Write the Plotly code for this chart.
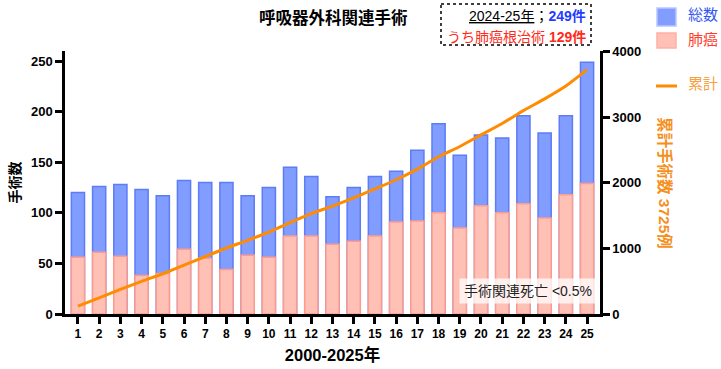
import plotly.graph_objects as go

years = list(range(1, 26))
total = [120, 126, 128, 123, 117, 132, 130, 130, 117, 125, 145, 136, 116,
         125, 136, 141, 162, 188, 157, 177, 174, 196, 179, 196, 249]
lung = [56, 61, 57, 38, 40, 64, 55, 44, 58, 56, 77, 77, 69,
        72, 77, 91, 92, 100, 85, 107, 100, 109, 95, 118, 129]
cumulative = [120, 246, 374, 497, 614, 746, 876, 1006, 1123, 1248, 1393, 1529, 1645,
              1770, 1906, 2047, 2209, 2397, 2554, 2731, 2905, 3101, 3280, 3476, 3725]
left_ticks = [0, 50, 100, 150, 200, 250]
right_ticks = [0, 1000, 2000, 3000, 4000]

FONT = "Arial, Liberation Sans, Noto Sans CJK JP, sans-serif"
BLUE_FILL = "#819dff"
BLUE_LINE = "#5d7cf6"
PINK_FILL = "#ffc0b6"
PINK_LINE = "#ff9b8c"
ORANGE = "#ff8c00"

W, H = 721, 369
pl, pr, pt, pb = 65, 600, 51, 314  # plot area in pixels

fig = go.Figure()
fig.add_trace(go.Bar(x=years, y=total, name="総数", width=0.62,
                     marker=dict(color=BLUE_FILL, line=dict(color=BLUE_LINE, width=1.5)),
                     showlegend=False))
fig.add_trace(go.Bar(x=years, y=lung, name="肺癌", width=0.62,
                     marker=dict(color=PINK_FILL, line=dict(color=PINK_LINE, width=1.5)),
                     showlegend=False))
fig.add_trace(go.Scatter(x=years, y=cumulative, name="累計", yaxis="y2", mode="lines",
                         line=dict(color=ORANGE, width=3, shape="spline", smoothing=0.6),
                         showlegend=False))

axis_common = dict(showline=True, linecolor="black", linewidth=2.5, ticks="outside",
                   ticklen=7, tickwidth=2.5, tickcolor="black", showgrid=False,
                   zeroline=False, automargin=False)

fig.update_layout(
    template="none",
    width=W, height=H,
    margin=dict(l=pl, r=W - pr, t=pt, b=H - pb, pad=0),
    paper_bgcolor="white", plot_bgcolor="white",
    barmode="overlay",
    font=dict(family=FONT, color="black"),
    xaxis=dict(range=[0.39, 25.61], tickmode="array", tickvals=years,
               ticktext=[str(v) for v in years],
               tickfont=dict(family=FONT, size=12, color="black", weight="bold"),
               title=dict(text="<b>2000-2025年</b>", font=dict(size=16.5, family=FONT), standoff=10),
               **axis_common),
    yaxis=dict(range=[0, 260], tickmode="array", tickvals=left_ticks,
               tickfont=dict(family=FONT, size=13, color="black", weight="bold"),
               title=dict(text="<b>手術数</b>", font=dict(size=14, family=FONT), standoff=8),
               **axis_common),
    yaxis2=dict(range=[0, 4010], overlaying="y", side="right", tickmode="array",
                tickvals=right_ticks,
                tickfont=dict(family=FONT, size=13, color="black", weight="bold"),
                **axis_common),
)


def px(x):
    return (x - pl) / (pr - pl)


def py(y):
    return (pb - y) / (pb - pt)


def note(text, x, y, xanchor="center", **kw):
    fig.add_annotation(text=text, x=px(x), y=py(y), xref="paper", yref="paper",
                       xanchor=xanchor, yanchor="middle", showarrow=False, **kw)


note("<b>呼吸器外科関連手術</b>", 333, 17, font=dict(size=16.5, family=FONT, color="black"))

# info box
fig.add_shape(type="rect", xref="paper", yref="paper", x0=px(441), x1=px(591), y0=py(4), y1=py(45),
              line=dict(color="black", width=1.5, dash="dot"), fillcolor="white")
note("<u>2024-25年</u>；<b><span style='color:#1f3cff'>249件</span></b>", 588, 16, xanchor="right",
     font=dict(size=14, family=FONT, color="black"))
note("うち肺癌根治術 <b>129件</b>", 588, 37, xanchor="right",
     font=dict(size=14, family=FONT, color="#ff2a1a"))

# mortality note
note("手術関連死亡 &lt;0.5%", 527.5, 290.5, bgcolor="rgba(255,255,255,0.75)", borderpad=4,
     font=dict(size=14, family=FONT, color="#222222"))

# right axis title
note("<b>累計手術数 3725例</b>", 665, 183, textangle=90,
     font=dict(size=15.5, family=FONT, color="#f5901e"))

# legend (manual)
fig.add_shape(type="rect", xref="paper", yref="paper", x0=px(657), x1=px(676), y0=py(8), y1=py(26),
              fillcolor=BLUE_FILL, line=dict(color="#b8c6ff", width=1.5))
note("総数", 686, 14, xanchor="left", font=dict(size=15, family=FONT, color="#3356f0"))
fig.add_shape(type="rect", xref="paper", yref="paper", x0=px(657), x1=px(676), y0=py(33), y1=py(48),
              fillcolor=PINK_FILL, line=dict(color="#ffb0a5", width=1.5))
note("肺癌", 686, 39, xanchor="left", font=dict(size=15, family=FONT, color="#ff3b2b"))
fig.add_shape(type="line", xref="paper", yref="paper", x0=px(656), x1=px(677), y0=py(86), y1=py(86),
              line=dict(color=ORANGE, width=3))
note("累計", 686, 83, xanchor="left", font=dict(size=15, family=FONT, color="#f9a040"))

fig.write_html("out.html", config={"displayModeBar": False},
               post_script="document.body.style.margin='0px';document.body.style.overflow='hidden';")
